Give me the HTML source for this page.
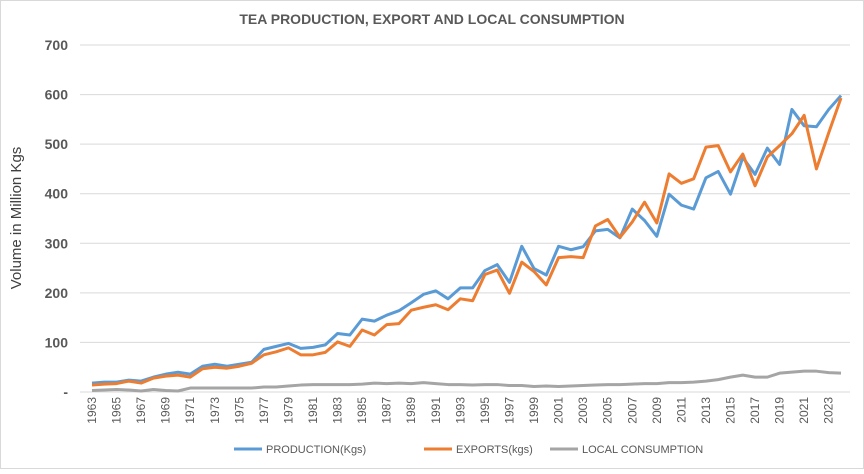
<!DOCTYPE html>
<html><head><meta charset="utf-8"><style>
body{margin:0;background:#fff;font-family:"Liberation Sans",sans-serif}
svg text{font-family:"Liberation Sans",sans-serif}
</style></head><body>
<svg id="c" width="864" height="469">
<rect x="0.5" y="0.5" width="863" height="468" fill="#fff" stroke="#d9d9d9"/>
<text x="432" y="24" text-anchor="middle" font-size="14" font-weight="bold" fill="#595959">TEA PRODUCTION, EXPORT AND LOCAL CONSUMPTION</text>
<text transform="translate(21,218) rotate(-90)" text-anchor="middle" font-size="15" fill="#404040">Volume in Million Kgs</text>
<g id="grid"></g><g id="xt"></g><g id="lines"></g>
<g>
<line x1="234" y1="449" x2="262" y2="449" stroke="#5b9bd5" stroke-width="3"/><text x="266" y="453" font-size="11" fill="#595959">PRODUCTION(Kgs)</text>
<line x1="424" y1="449" x2="452" y2="449" stroke="#ed7d31" stroke-width="3"/><text x="456" y="453" font-size="11" fill="#595959">EXPORTS(kgs)</text>
<line x1="550" y1="449" x2="578" y2="449" stroke="#a5a5a5" stroke-width="3"/><text x="582" y="453" font-size="11" fill="#595959">LOCAL CONSUMPTION</text>
</g>
</svg>
<script>
const years=[];for(let y=1963;y<=2024;y++)years.push(y);
const production=[18,20,20,24,22,30,36,40,36,52,56,52,56,60,86,92,98,88,90,95,118,115,147,143,155,164,180,197,204,188,210,210,245,257,221,294,249,236,294,287,293,325,328,311,369,346,314,399,377,369,432,445,399,473,439,492,459,570,537,535,570,598];
const exports_=[14,16,17,22,18,28,32,34,30,47,50,48,52,58,75,81,89,75,75,80,101,92,125,115,136,138,165,171,176,166,188,184,237,246,199,262,243,216,271,273,271,335,348,312,343,383,341,440,421,430,494,497,444,480,416,474,497,521,558,450,523,593];
const local=[3,4,5,4,2,5,3,2,8,8,8,8,8,8,10,10,12,14,15,15,15,15,16,18,17,18,17,19,17,15,15,14,15,15,13,13,11,12,11,12,13,14,15,15,16,17,17,19,19,20,22,25,30,34,30,30,38,40,42,42,39,38];
const yTicks=[0,100,200,300,400,500,600,700];
const NS="http://www.w3.org/2000/svg";
const X=i=>92+i*(841-92)/61, Y=v=>392-v*(392-45)/700;
function mk(t,a,p){const e=document.createElementNS(NS,t);for(const k in a)e.setAttribute(k,a[k]);p.appendChild(e);return e;}
const g=document.getElementById('grid');
yTicks.forEach(v=>{
 const l=mk('line',{x1:80,x2:850,y1:Y(v),y2:Y(v),stroke:'#d9d9d9'},g);
 
 
 const t=mk('text',{x:68,y:Y(v)+5,'text-anchor':'end','font-size':14,'font-weight':'bold',fill:'#595959'},g);
 t.textContent=v===0?'-':v;
 
 
});
const xt=document.getElementById('xt');
years.forEach((yr,i)=>{
 if(i%2)return;
 const t=mk('text',{transform:`translate(${X(i)+4},${397}) rotate(-90)`,'text-anchor':'end','font-size':12,fill:'#595959'},xt);
 t.textContent=yr;
 
 
});
const L=document.getElementById('lines');
[[local,'#a5a5a5','line-local'],[production,'#5b9bd5','line-production'],[exports_,'#ed7d31','line-exports']].forEach(([d,c,n])=>{
 const p=mk('polyline',{points:d.map((v,i)=>X(i)+','+Y(v)).join(' '),fill:'none',stroke:c,'stroke-width':3,'stroke-linejoin':'round'},L);
 
 
});
</script>
</body></html>
